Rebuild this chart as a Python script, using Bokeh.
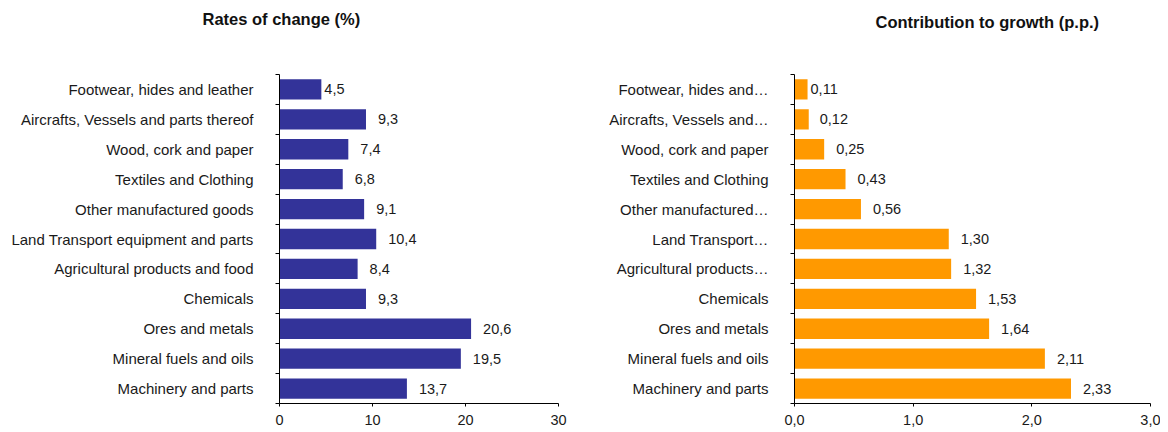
from bokeh.plotting import figure
from bokeh.models import FixedTicker, Range1d, ColumnDataSource, CustomJSTickFormatter, Title
from bokeh.layouts import row
from bokeh.embed import file_html
from bokeh.resources import INLINE
from bokeh.core.properties import value

categories = [
    "Footwear, hides and leather",
    "Aircrafts, Vessels and parts thereof",
    "Wood, cork and paper",
    "Textiles and Clothing",
    "Other manufactured goods",
    "Land Transport equipment and parts",
    "Agricultural products and food",
    "Chemicals",
    "Ores and metals",
    "Mineral fuels and oils",
    "Machinery and parts",
]
short_categories = [
    "Footwear, hides and\u2026",
    "Aircrafts, Vessels and\u2026",
    "Wood, cork and paper",
    "Textiles and Clothing",
    "Other manufactured\u2026",
    "Land Transport\u2026",
    "Agricultural products\u2026",
    "Chemicals",
    "Ores and metals",
    "Mineral fuels and oils",
    "Machinery and parts",
]
rates = [4.5, 9.3, 7.4, 6.8, 9.1, 10.4, 8.4, 9.3, 20.6, 19.5, 13.7]
contrib = [0.11, 0.12, 0.25, 0.43, 0.56, 1.30, 1.32, 1.53, 1.64, 2.11, 2.33]
rate_ticks = [0, 10, 20, 30]
contrib_ticks = [0.0, 1.0, 2.0, 3.0]

FONT = "'Liberation Sans', Arial, sans-serif"
H = 432

left_offsets = [3, 12, 12, 12, 12, 12, 12, 12, 12, 12, 12]
right_offsets = [3, 11, 12, 12, 12, 12, 12, 12, 12, 12, 12]


def panel(title, labels, values, decimals, color, ticks, tick_dec, width,
          b_left, b_right, b_top, b_bottom, title_dx, spacer, offsets):
    n = len(labels)
    ys = [n - 1 - i for i in range(n)]
    texts = [f"{v:.{decimals}f}".replace(".", ",") for v in values]
    src = ColumnDataSource(dict(y=ys, v=values, t=texts, off=offsets))
    p = figure(width=width, height=H, output_backend="svg", toolbar_location=None,
               title=None,
               x_range=Range1d(ticks[0], ticks[-1]), y_range=Range1d(-0.5, n - 0.5),
               min_border_left=b_left, min_border_right=b_right,
               min_border_top=b_top, min_border_bottom=b_bottom)
    p.hbar(y="y", left=0, right="v", height=0.68, source=src,
           fill_color=color, line_color=None)
    p.text(x="v", y="y", text="t", x_offset="off", source=src,
           text_font=value(FONT), text_font_size="14.5px", text_color="#1a1a1a",
           text_align="left", text_baseline="middle")
    # empty spacer title next to the frame, real title stacked above it
    p.add_layout(Title(text=" ", text_font_size="1px", standoff=spacer), "above")
    p.add_layout(Title(text=title, align="left", offset=title_dx, standoff=4,
                       text_font=FONT, text_font_size="16.5px",
                       text_font_style="bold", text_color="#111111"), "above")

    p.xgrid.visible = False
    p.ygrid.visible = False
    p.outline_line_color = None

    xa = p.xaxis[0]
    xa.ticker = FixedTicker(ticks=ticks)
    xa.formatter = CustomJSTickFormatter(
        args=dict(d=tick_dec), code="return tick.toFixed(d).replace('.', ',');")
    xa.major_tick_in = 0
    xa.major_tick_out = 3
    xa.minor_tick_out = 0
    xa.minor_tick_in = 0
    xa.axis_line_color = "black"
    xa.major_tick_line_color = "black"
    xa.major_label_text_font = FONT
    xa.major_label_text_font_size = "14.5px"
    xa.major_label_text_color = "#1a1a1a"
    xa.major_label_standoff = 8

    ya = p.yaxis[0]
    ya.ticker = FixedTicker(ticks=ys, minor_ticks=[k - 0.5 for k in range(n + 1)])
    ya.formatter = CustomJSTickFormatter(
        args=dict(names=labels, n=n), code="return names[n - 1 - Math.round(tick)];")
    ya.major_tick_in = 0
    ya.major_tick_out = 0
    ya.minor_tick_in = 0
    ya.minor_tick_out = 4
    ya.minor_tick_line_color = "black"
    ya.axis_line_color = "black"
    ya.major_label_text_font = FONT
    ya.major_label_text_font_size = "15px"
    ya.major_label_text_color = "#1a1a1a"
    ya.major_label_standoff = 22
    return p


p1 = panel("Rates of change (%)", categories, rates, 1, "#333399", rate_ticks, 0,
           580, 279, 22, 74, 29, -77, 42, left_offsets)
p2 = panel("Contribution to growth (p.p.)", short_categories, contrib, 2, "#FF9900",
           contrib_ticks, 1, 580, 214, 10, 72, 27, 81, 39, right_offsets)

layout = row(p1, p2)
open("out.html", "w").write(file_html(layout, INLINE))
